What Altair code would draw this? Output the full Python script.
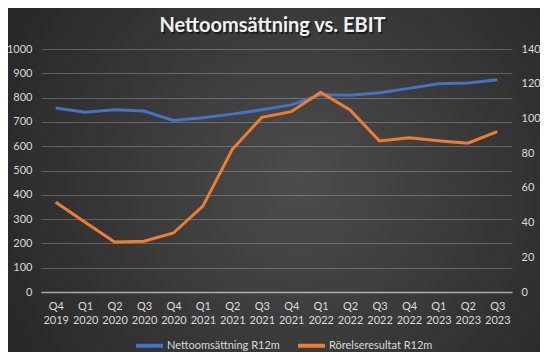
import altair as alt
import pandas as pd

quarters = ["Q4 2019", "Q1 2020", "Q2 2020", "Q3 2020", "Q4 2020", "Q1 2021",
            "Q2 2021", "Q3 2021", "Q4 2021", "Q1 2022", "Q2 2022", "Q3 2022",
            "Q4 2022", "Q1 2023", "Q2 2023", "Q3 2023"]
netto = [757, 740, 750, 745, 706, 717, 732, 750, 770, 812, 810, 820, 838, 857, 860, 873]
ebit = [51.7, 40.2, 28.8, 29.2, 34.0, 49.5, 82.2, 100.6, 103.9, 115.0, 104.9, 87.0,
        88.9, 87.2, 85.7, 92.4]
series_names = ["Nettoomsättning R12m", "Rörelseresultat R12m"]
series_colors = ["#4472C4", "#ED7D31"]
left_ticks = list(range(0, 1001, 100))
right_ticks = list(range(0, 141, 20))
title_text = ["Nettoomsättning vs. EBIT"]

df1 = pd.DataFrame({"quarter": quarters, "value": netto, "series": series_names[0]})
df2 = pd.DataFrame({"quarter": quarters, "value": ebit, "series": series_names[1]})

W, H = 471, 243
LBL = "#d9d9d9"
FONT = "Lato"
FS = 11

color_scale = alt.Scale(domain=series_names, range=series_colors)
legend = alt.Legend(title=None, orient="none", legendX=93, legendY=281,
                    direction="horizontal",
                    symbolType="stroke", symbolSize=729, symbolStrokeWidth=4,
                    labelColor=LBL, labelFont=FONT, labelFontSize=FS,
                    labelOffset=2, columnPadding=10)

xenc = alt.X("quarter:O", sort=quarters, scale=alt.Scale(padding=0.5),
             axis=alt.Axis(title=None, labelAngle=0,
                           labelExpr="split(datum.label, ' ')",
                           labelColor=LBL, labelFont=FONT, labelFontSize=FS,
                           labelLineHeight=14, labelPadding=8, ticks=False,
                           domainColor="#a6a6a6", domainWidth=1.5, grid=False))

bg = alt.Chart(pd.DataFrame({"k": [0]})).mark_rect(
    color=alt.RadialGradient(
        gradient="radial",
        stops=[alt.GradientStop(color="rgba(255,255,255,0.17)", offset=0),
               alt.GradientStop(color="rgba(255,255,255,0)", offset=1)],
        x1=0.55, y1=0.5, r1=0, x2=0.55, y2=0.5, r2=0.62)
).encode(x=alt.value(-33), x2=alt.value(W + 28), y=alt.value(-41), y2=alt.value(H + 60))

title_shadow = alt.Chart(pd.DataFrame({"t": title_text})).mark_text(
    font=FONT, fontSize=20, fontWeight="bold", color="#000000", opacity=0.5,
    align="center", baseline="middle"
).encode(text="t:N", x=alt.value(W / 2 - 4 + 1.5), y=alt.value(-23 + 1.5))

title = alt.Chart(pd.DataFrame({"t": title_text})).mark_text(
    font=FONT, fontSize=20, fontWeight="bold", color="#f2f2f2",
    align="center", baseline="middle"
).encode(text="t:N", x=alt.value(W / 2 - 4), y=alt.value(-23))

l1 = alt.Chart(df1).mark_line(strokeWidth=3).encode(
    x=xenc,
    y=alt.Y("value:Q", scale=alt.Scale(domain=[0, 1000]),
            axis=alt.Axis(title=None, orient="left", values=left_ticks, format="d",
                          grid=True, gridColor="#5a5a5a", gridWidth=1, domain=False,
                          ticks=False, labelColor=LBL, labelFont=FONT,
                          labelFontSize=FS, labelPadding=9)),
    color=alt.Color("series:N", scale=color_scale, legend=legend),
)

l2 = alt.Chart(df2).mark_line(strokeWidth=3).encode(
    x=xenc,
    y=alt.Y("value:Q", scale=alt.Scale(domain=[0, 140]),
            axis=alt.Axis(title=None, orient="right", values=right_ticks, format="d",
                          grid=False, domain=False, ticks=False,
                          labelColor=LBL, labelFont=FONT, labelFontSize=FS,
                          labelPadding=9)),
    color=alt.Color("series:N", scale=color_scale, legend=legend),
)

chart = alt.layer(bg, title_shadow, title, l1, l2).resolve_scale(y="independent").properties(
    width=W, height=H,
    autosize=alt.AutoSizeParams(type="none"),
    padding={"left": 33, "top": 41, "right": 28, "bottom": 60},
    background="#282828",
).configure_view(stroke=None)

chart.save("out.html", embed_options={"renderer": "svg", "actions": False})
